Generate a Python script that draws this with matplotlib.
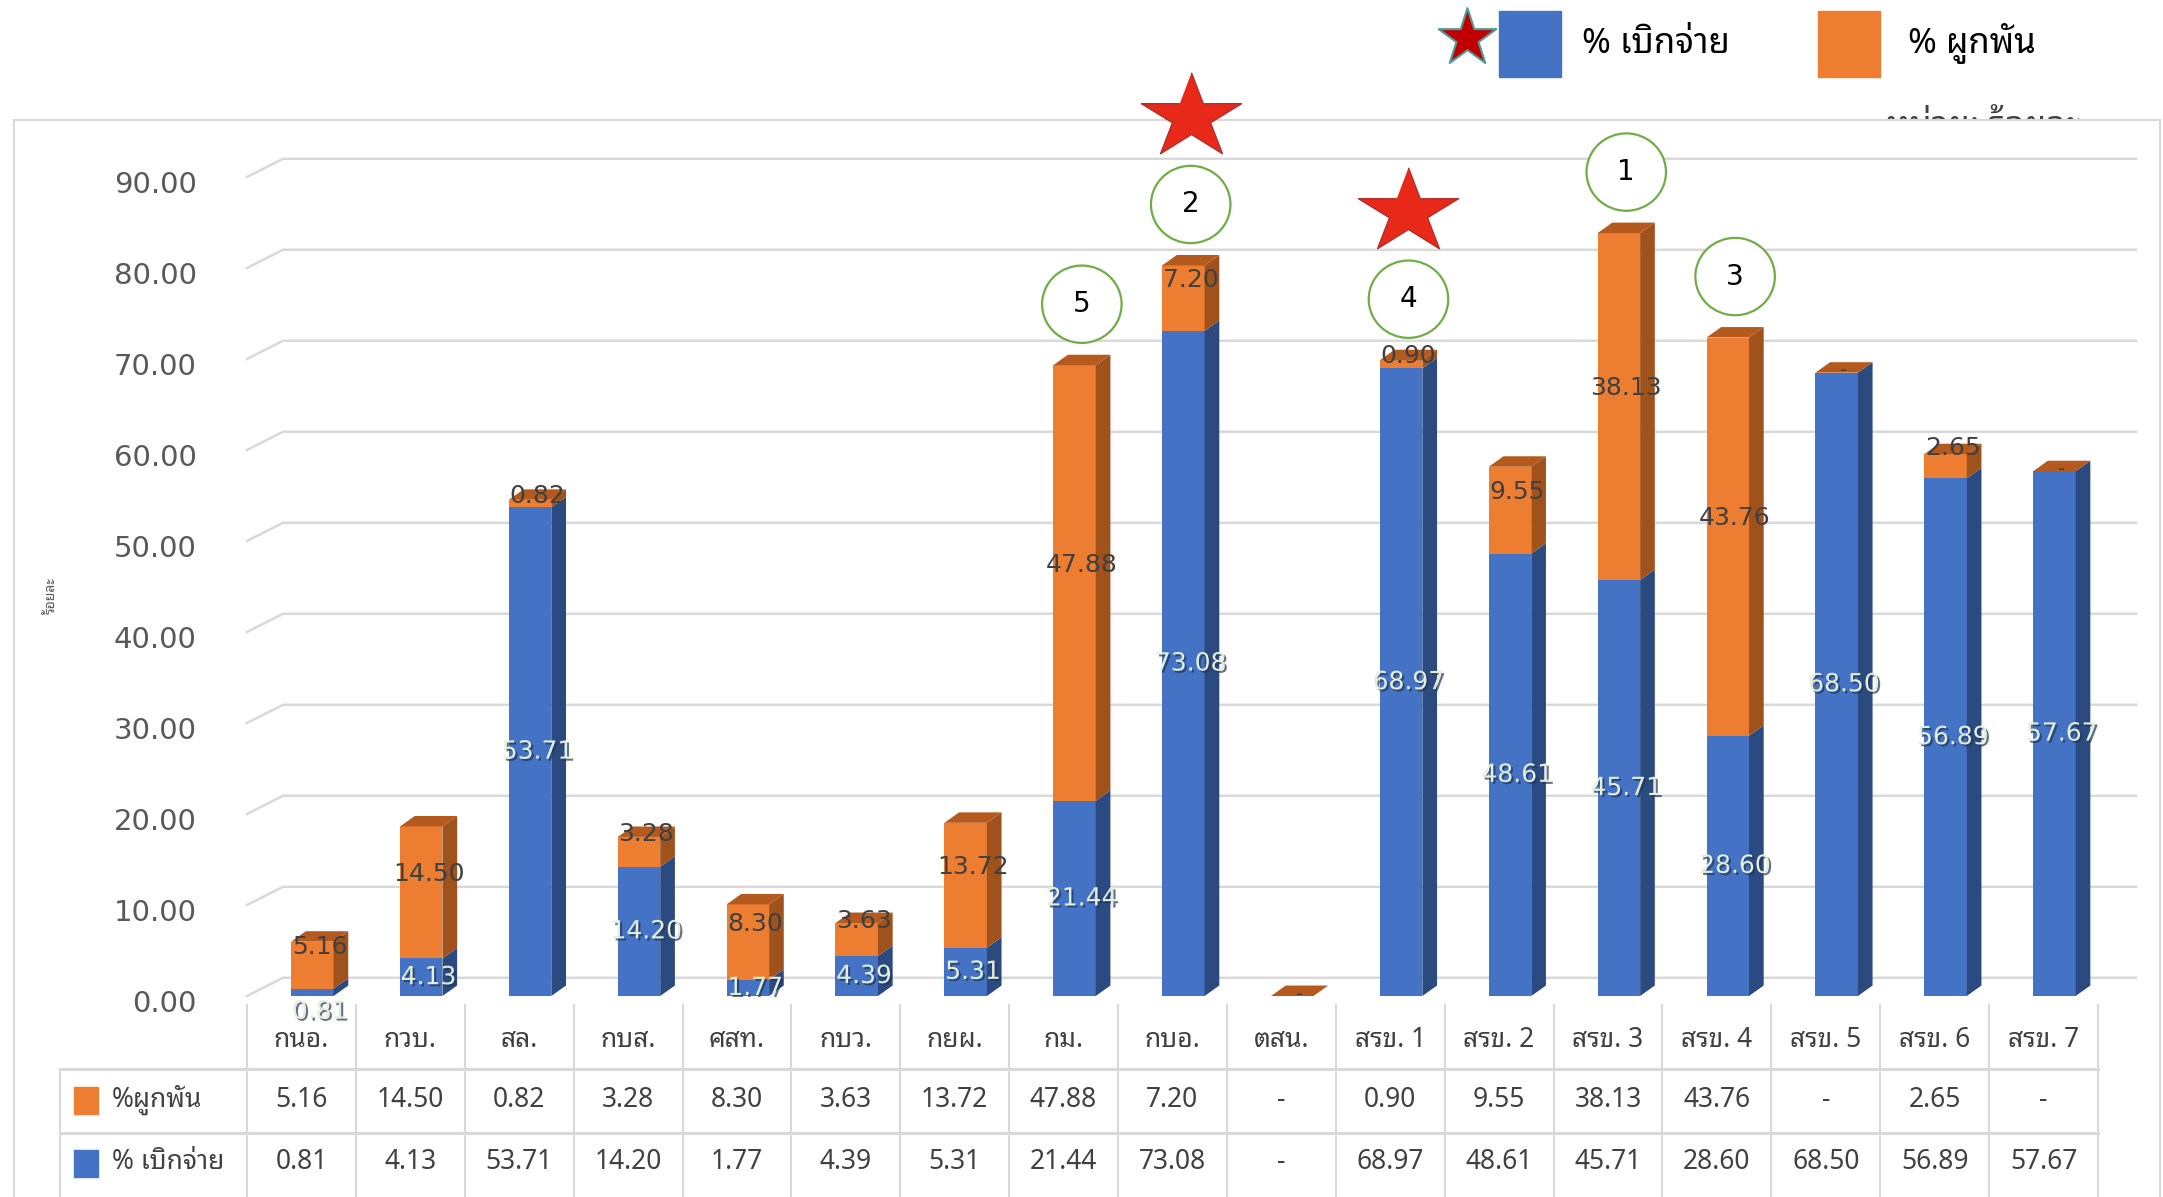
import numpy as np
import matplotlib
matplotlib.use("Agg")
import matplotlib.pyplot as plt
import matplotlib.patheffects as pe
from matplotlib import font_manager
from matplotlib.ft2font import FT2Font
from matplotlib.patches import Polygon, Rectangle, Ellipse

# data
categories = ["กนอ.", "กวบ.", "สล.", "กบส.", "ศสท.", "กบว.", "กยผ.", "กม.", "กบอ.", "ตสน.",
              "สรข. 1", "สรข. 2", "สรข. 3", "สรข. 4", "สรข. 5", "สรข. 6", "สรข. 7"]
disbursed = [0.81, 4.13, 53.71, 14.20, 1.77, 4.39, 5.31, 21.44, 73.08, 0.0,
             68.97, 48.61, 45.71, 28.60, 68.50, 56.89, 57.67]
committed = [5.16, 14.50, 0.82, 3.28, 8.30, 3.63, 13.72, 47.88, 7.20, 0.0,
             0.90, 9.55, 38.13, 43.76, 0.0, 2.65, 0.0]
ranks = {"สรข. 3": "1", "กบอ.": "2", "สรข. 4": "3", "สรข. 1": "4", "กม.": "5"}
starred = ["กบอ.", "สรข. 1"]
y_ticks = np.arange(0, 100, 10)

label_disb = "% เบิกจ่าย"
label_comm = "% ผูกพัน"
label_comm_row = "%ผูกพัน"
unit_text = "หน่วย: ร้อยละ"
y_title = "ร้อยละ"


# find a font that can draw Thai
def find_thai_font():
    found = []
    for f in font_manager.fontManager.ttflist:
        try:
            if 0x0E01 in FT2Font(f.fname).get_charmap():
                found.append(f.name)
        except Exception:
            pass
    for pref in ["Noto Sans Thai", "Sarabun", "Loma", "Garuda", "Tlwg"]:
        for n in found:
            if pref in n:
                return n
    return found[0] if found else "DejaVu Sans"


thai = find_thai_font()
names = {f.name for f in font_manager.fontManager.ttflist}
narrow = "Liberation Sans Narrow" if "Liberation Sans Narrow" in names else thai
plt.rcParams["font.family"] = [thai, "DejaVu Sans"]
table_font = [narrow, thai, "DejaVu Sans"]
num_font = ["DejaVu Sans"]

W, H = 2163, 1197
fig = plt.figure(figsize=(W / 100, H / 100), dpi=100)

# pixel overlay for frame, legend and table
ov = fig.add_axes([0, 0, 1, 1])
ov.set_xlim(0, W)
ov.set_ylim(H, 0)
ov.axis("off")
ov.set_zorder(0)

# unit note sits half hidden behind the chart frame
ov.text(1887, 127, unit_text, fontsize=25, color="#404040", va="center", zorder=0.5)
ov.add_patch(Rectangle((14, 120), 2146, 1100, facecolor="white", edgecolor="#d9d9d9",
                       lw=1.5, zorder=1))

# legend at top
blue, blue_side = "#4472C4", "#2B4A80"
orange, orange_side, orange_top = "#ED7D31", "#A0521C", "#B55A1E"
ov.scatter([1467], [38], marker="*", s=1900, color="#C00000", edgecolor="#4E9A96",
           lw=1.5, zorder=3)
ov.add_patch(Rectangle((1499, 11), 62, 66, color=blue, zorder=3))
ov.text(1582, 44, label_disb, fontsize=25, va="center", color="black", zorder=3)
ov.add_patch(Rectangle((1818, 11), 62, 66, color=orange, zorder=3))
ov.text(1908, 44, label_comm, fontsize=25, va="center", color="black", zorder=3)

ov.text(51, 596, y_title, fontsize=10, rotation=90, color="#595959", ha="center", va="center",
        zorder=3)

# table under the chart
n = len(categories)
col_left, col_w = 247, 108.88
tab_right = col_left + n * col_w
grid_c = "#d9d9d9"
for k in range(n + 1):
    xk = col_left + k * col_w
    ov.plot([xk, xk], [1005, H], color=grid_c, lw=1.5, zorder=2)
ov.plot([60, 60], [1069, H], color=grid_c, lw=1.5, zorder=2)
for yy in [1069, 1133]:
    ov.plot([60, tab_right], [yy, yy], color=grid_c, lw=2.2, zorder=2)


def fmt(v):
    return "-" if v == 0 else f"{v:.2f}"


for i, cat in enumerate(categories):
    xc = col_left + (i + 0.5) * col_w
    ov.text(xc, 1040, cat, fontsize=19, ha="center", va="center", color="#404040",
            family=table_font, zorder=3)
    ov.text(xc, 1100, fmt(committed[i]), fontsize=19, ha="center", va="center",
            color="#404040", family=table_font, zorder=3)
    ov.text(xc, 1162, fmt(disbursed[i]), fontsize=19, ha="center", va="center",
            color="#404040", family=table_font, zorder=3)

ov.add_patch(Rectangle((74, 1087), 24, 27, color=orange, zorder=3))
ov.text(112, 1100, label_comm_row, fontsize=19, va="center", color="#404040",
        family=table_font, zorder=3)
ov.add_patch(Rectangle((74, 1150), 24, 27, color=blue, zorder=3))
ov.text(112, 1162, label_disb, fontsize=19, va="center", color="#404040",
        family=table_font, zorder=3)

# chart axes
px_unit = 9.1
ax = fig.add_axes([col_left / W, 1 - 1005 / H, (2136 - col_left) / W, (1005 - 120) / H])
ax.set_zorder(1)
ax.patch.set_visible(False)
ax.axis("off")
xmax = -0.5 + (2136 - col_left) / col_w
ax.set_xlim(-0.5, xmax)
ax.set_ylim((996 - 1005) / px_unit, (996 - 120) / px_unit)

# back wall gridlines with the floor diagonal
for v in y_ticks:
    ax.plot([-0.5, -0.17, xmax], [v, v + 2, v + 2], color=grid_c, lw=1.8, zorder=0,
            clip_on=False)
    ax.text(-0.96, v - 0.9, f"{v:.2f}", fontsize=21, ha="right", va="center",
            color="#595959", family=num_font)

bw, dx, dy = 0.39, 0.135, 1.15
shadow = [pe.SimplePatchShadow(offset=(1.5, -1.5), shadow_rgbFace="#1f3560", alpha=0.7),
          pe.Normal()]


def box(left, y0, y1, front, side, z):
    if y1 > y0:
        ax.add_patch(Rectangle((left, y0), bw, y1 - y0, facecolor=front, lw=0, zorder=z))
        ax.add_patch(Polygon([(left + bw, y0), (left + bw + dx, y0 + dy),
                              (left + bw + dx, y1 + dy), (left + bw, y1)],
                             closed=True, facecolor=side, lw=0, zorder=z))


for i, cat in enumerate(categories):
    d, c = disbursed[i], committed[i]
    xc = i + 0.1
    left = xc - bw / 2
    top = d + c
    box(left, 0, d, blue, blue_side, 2)
    box(left, d, top, orange, orange_side, 2)
    ax.add_patch(Polygon([(left, top), (left + dx, top + dy), (left + bw + dx, top + dy),
                          (left + bw, top)], closed=True, facecolor=orange_top, lw=0,
                         zorder=2))
    lx = xc + dx / 2
    if d > 0:
        ly = d / 2 if d >= 1.5 else -1.7
        ax.text(lx, ly, f"{d:.2f}", fontsize=18, ha="center", va="center", color="#E4EFDA",
                family=num_font, zorder=4, path_effects=shadow)
    if c > 0:
        ax.text(lx, d + c / 2 + min(2.0, c), f"{c:.2f}", fontsize=18, ha="center",
                va="center", color="#404040", family=num_font, zorder=4)
    else:
        ax.text(lx, top + 0.2, "-", fontsize=14, ha="center", va="center", color="#404040",
                family=num_font, zorder=4)
    if cat in ranks:
        ax.add_patch(Ellipse((lx, top + 6.7), 0.73, 8.5, facecolor="white",
                             edgecolor="#70AD47", lw=1.6, zorder=5, clip_on=False))
        ax.text(lx, top + 6.7, ranks[cat], fontsize=20, ha="center", va="center",
                color="black", family=num_font, zorder=6)
    if cat in starred:
        ang = np.linspace(0, 2 * np.pi, 11)[:-1]
        rad = np.where(np.arange(10) % 2 == 0, 1.0, 0.38)
        star = list(zip(rad * np.sin(ang), 0.85 * rad * np.cos(ang)))
        ax.scatter([lx], [top + 16.3], marker=star, s=5200, color="#E8291A",
                   edgecolor="#B0302A", lw=1, zorder=6, clip_on=False)

fig.savefig("out.png", dpi=100)
